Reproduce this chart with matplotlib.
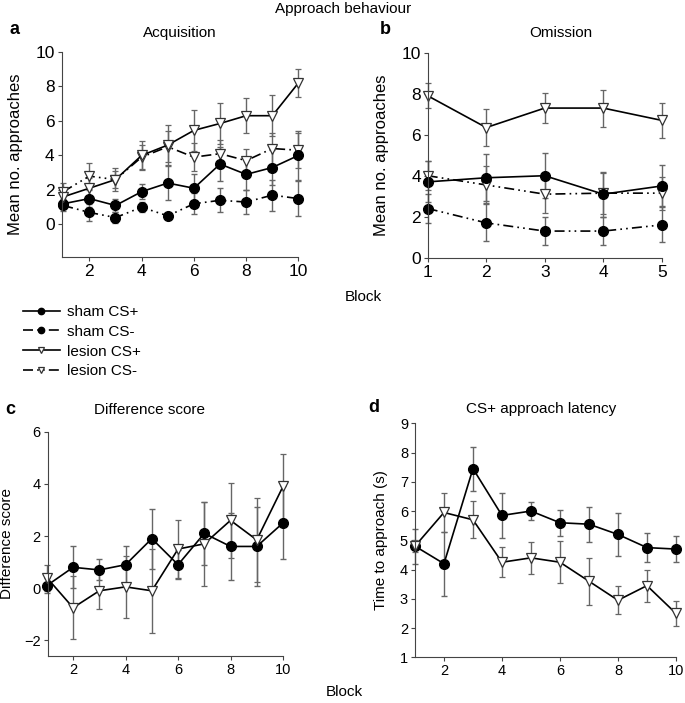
import numpy as np
import matplotlib
matplotlib.use('Agg')
import matplotlib.pyplot as plt
from matplotlib.lines import Line2D

plt.rcParams['font.family'] = ['Liberation Sans', 'DejaVu Sans']

# panel a: acquisition, blocks 1-10
blocks10 = np.arange(1, 11)
acq_sham_plus = [1.2, 1.5, 1.1, 1.9, 2.4, 2.1, 3.5, 2.9, 3.3, 4.0]
acq_sham_plus_err = [0.3, 0.5, 0.4, 0.45, 1.0, 0.8, 1.0, 0.9, 1.0, 1.4]
acq_sham_minus = [1.1, 0.7, 0.4, 1.0, 0.5, 1.2, 1.4, 1.3, 1.7, 1.5]
acq_sham_minus_err = [0.3, 0.5, 0.3, 0.3, 0.1, 0.6, 0.7, 0.7, 0.9, 1.0]
acq_les_plus = [1.6, 2.1, 2.6, 4.0, 4.6, 5.45, 5.85, 6.3, 6.3, 8.2]
acq_les_plus_err = [0.5, 0.6, 0.65, 0.85, 1.15, 1.2, 1.2, 1.0, 1.2, 0.8]
acq_les_minus = [1.9, 2.8, 2.6, 3.9, 4.5, 3.9, 4.1, 3.7, 4.4, 4.3]
acq_les_minus_err = [0.5, 0.75, 0.5, 0.7, 0.9, 0.8, 0.8, 0.7, 0.9, 1.0]

# panel b: omission, blocks 1-5
blocks5 = np.arange(1, 6)
om_sham_plus = [3.7, 3.9, 4.0, 3.1, 3.5]
om_sham_plus_err = [1.0, 1.15, 1.1, 1.1, 1.0]
om_sham_minus = [2.4, 1.7, 1.3, 1.3, 1.6]
om_sham_minus_err = [0.7, 0.9, 0.7, 0.7, 0.85]
om_les_plus = [7.9, 6.35, 7.3, 7.3, 6.7]
om_les_plus_err = [0.6, 0.9, 0.75, 0.9, 0.85]
om_les_minus = [4.0, 3.55, 3.1, 3.15, 3.15]
om_les_minus_err = [0.7, 0.9, 0.9, 1.0, 0.8]

# panel c: difference score
diff_sham = [0.1, 0.8, 0.7, 0.9, 1.9, 0.9, 2.1, 1.6, 1.6, 2.5]
diff_sham_err = [0.3, 0.8, 0.4, 0.7, 1.15, 0.55, 1.2, 1.3, 1.5, 1.4]
diff_les = [0.4, -0.75, -0.1, 0.05, -0.1, 1.5, 1.7, 2.6, 1.85, 3.9]
diff_les_err = [0.5, 1.2, 0.7, 1.2, 1.6, 1.1, 1.6, 1.45, 1.6, 1.25]

# panel d: CS+ approach latency
lat_sham = [4.8, 4.2, 7.45, 5.85, 6.0, 5.6, 5.55, 5.2, 4.75, 4.7]
lat_sham_err = [0.6, 1.1, 0.75, 0.77, 0.3, 0.45, 0.6, 0.72, 0.5, 0.43]
lat_les = [4.8, 5.95, 5.7, 4.25, 4.4, 4.25, 3.6, 2.95, 3.45, 2.5]
lat_les_err = [0.2, 0.65, 0.63, 0.52, 0.54, 0.72, 0.8, 0.48, 0.55, 0.43]

DDOT = (0, (6, 2.5, 1, 2.5, 1, 2.5))
ECOL = '#666666'
circ = dict(marker='o', ms=7, mfc='black', mec='black')
tri = dict(marker='v', ms=7.5, mfc='white', mec='#333333', mew=0.9)


def series(ax, x, y, e, ls, mk):
    ax.errorbar(x, y, yerr=e, color='black', ls=ls, lw=1.2, ecolor=ECOL,
                elinewidth=1.0, capsize=2, capthick=1.0, clip_on=False, **mk)


def style(ax, fs):
    for s in ['top', 'right']:
        ax.spines[s].set_visible(False)
    ax.spines['left'].set_color('#444444')
    ax.spines['bottom'].set_color('#444444')
    ax.tick_params(direction='out', length=3, width=0.8, color='#444444',
                   labelsize=fs, pad=2)


fig = plt.figure(figsize=(6.85, 7.03), dpi=100)
W, H = 685.0, 703.0

# a
ax = fig.add_axes([0.090, 0.634, 0.3457, 0.2923])
series(ax, blocks10, acq_sham_minus, acq_sham_minus_err, DDOT, circ)
series(ax, blocks10, acq_les_minus, acq_les_minus_err, DDOT, tri)
series(ax, blocks10, acq_sham_plus, acq_sham_plus_err, '-', circ)
series(ax, blocks10, acq_les_plus, acq_les_plus_err, '-', tri)
ax.set_xlim(0.94, 10)
ax.set_ylim(-1.9, 10)
ax.set_xticks([2, 4, 6, 8, 10])
ax.set_yticks([0, 2, 4, 6, 8, 10])
ax.set_ylabel('Mean no. approaches', fontsize=12)
ax.yaxis.set_label_coords(-0.163, 0.5)
style(ax, 12.5)

# b
ax = fig.add_axes([0.6244, 0.6334, 0.3416, 0.2916])
series(ax, blocks5, om_sham_minus, om_sham_minus_err, DDOT, circ)
series(ax, blocks5, om_les_minus, om_les_minus_err, DDOT, tri)
series(ax, blocks5, om_sham_plus, om_sham_plus_err, '-', circ)
series(ax, blocks5, om_les_plus, om_les_plus_err, '-', tri)
ax.set_xlim(1, 5)
ax.set_ylim(0, 10)
ax.set_xticks([1, 2, 3, 4, 5])
ax.set_yticks([0, 2, 4, 6, 8, 10])
ax.set_ylabel('Mean no. approaches', fontsize=12)
ax.yaxis.set_label_coords(-0.165, 0.5)
style(ax, 12.5)

# c
ax = fig.add_axes([0.0696, 0.0669, 0.3435, 0.319])
series(ax, blocks10, diff_sham, diff_sham_err, '-', circ)
series(ax, blocks10, diff_les, diff_les_err, '-', tri)
ax.set_xlim(1.03, 10)
ax.set_ylim(-2.6, 6)
ax.set_xticks([2, 4, 6, 8, 10])
ax.set_yticks([-2, 0, 2, 4, 6])
ax.set_ylabel('Difference score', fontsize=11)
ax.yaxis.set_label_coords(-0.142, 0.5)
style(ax, 10.5)

# d
ax = fig.add_axes([0.6058, 0.065, 0.381, 0.3329])
series(ax, blocks10, lat_sham, lat_sham_err, '-', circ)
series(ax, blocks10, lat_les, lat_les_err, '-', tri)
ax.set_xlim(1, 10)
ax.set_ylim(1, 9)
ax.set_xticks([2, 4, 6, 8, 10])
ax.set_yticks(range(1, 10))
ax.set_ylabel('Time to approach (s)', fontsize=11)
ax.yaxis.set_label_coords(-0.103, 0.5)
style(ax, 10.5)

# figure-level text (positions in pixels from top-left)
def ftext(x, y, s, **kw):
    fig.text(x / W, 1 - y / H, s, va='center', **kw)

ftext(343, 9, 'Approach behaviour', ha='center', fontsize=11)
ftext(180, 33, 'Acquisition', ha='center', fontsize=11)
ftext(561, 33, 'Omission', ha='center', fontsize=11)
ftext(150, 410, 'Difference score', ha='center', fontsize=11)
ftext(541, 409, 'CS+ approach latency', ha='center', fontsize=11)
ftext(363, 297, 'Block', ha='center', fontsize=11)
ftext(344, 692, 'Block', ha='center', fontsize=11)
for lab, x, y in [('a', 10, 30), ('b', 380, 30), ('c', 5, 409), ('d', 368, 407)]:
    ftext(x, y, lab, ha='left', fontsize=13, fontweight='bold')

handles = [
    Line2D([], [], color='black', lw=1.2, ls='-', **circ),
    Line2D([], [], color='black', lw=1.2, ls=DDOT, **circ),
    Line2D([], [], color='black', lw=1.2, ls='-', **tri),
    Line2D([], [], color='black', lw=1.2, ls=DDOT, **tri),
]
fig.legend(handles, ['sham CS+', 'sham CS-', 'lesion CS+', 'lesion CS-'],
           loc='upper left', bbox_to_anchor=(23 / W, 1 - 305 / H), frameon=False,
           fontsize=11, handlelength=2.4, handletextpad=0.45,
           labelspacing=0.38, borderpad=0, borderaxespad=0, markerscale=0.65)

fig.savefig('out.png', dpi=100)
